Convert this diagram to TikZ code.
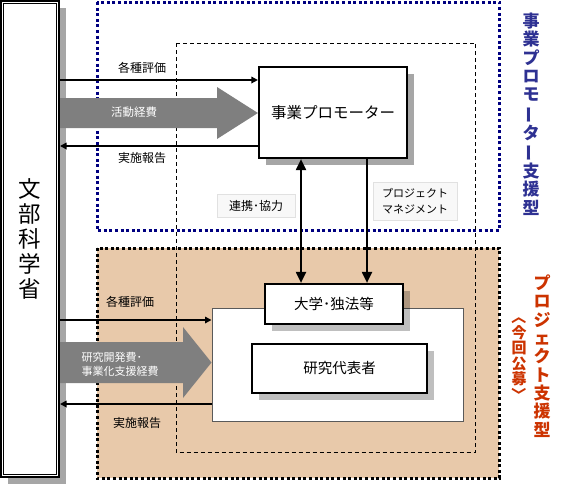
\documentclass[tikz,border=0pt]{standalone}
\usepackage{graphicx}
\usepackage{fontspec}
\setmainfont{Noto Sans CJK JP}
\usetikzlibrary{arrows.meta,shadows}
\definecolor{tanfill}{RGB}{232,201,170}
\definecolor{navyb}{RGB}{0,0,128}
\definecolor{titleblue}{RGB}{46,49,146}
\definecolor{titlered}{RGB}{204,51,0}
\definecolor{arrgray}{RGB}{127,127,127}
\definecolor{lblfill}{RGB}{248,248,248}
\definecolor{lbldraw}{RGB}{225,225,225}
\definecolor{contdraw}{RGB}{90,90,90}
\newcommand\fs[2]{\fontsize{#1}{#2}\selectfont}
\newcommand\vchar[1]{\rotatebox[origin=c]{90}{#1}}
\newcommand\vbrk[1]{\rotatebox[origin=c]{-90}{#1}}
\tikzset{
  region/.style={inner sep=0pt, anchor=north west},
  box/.style={draw, line width=2.2pt, fill=white, inner sep=0pt, font=\fs{14.5}{17}},
  shad/.style={drop shadow={shadow xshift=7pt, shadow yshift=-7pt, fill=black, opacity=#1}},
  harr/.style={line width=1.6pt, -{Triangle[length=6.5pt,width=6.5pt]}},
  varr/.style={line width=2pt, -{Triangle[length=11pt,width=10pt]}},
  vdarr/.style={line width=2pt, {Triangle[length=11pt,width=10pt]}-{Triangle[length=11pt,width=10pt]}},
  lbl/.style={inner sep=0pt, font=\fs{12}{14}},
  lblbox/.style={fill=lblfill, draw=lbldraw, line width=0.8pt, inner sep=0pt, font=\fs{12}{14}},
  bigarr/.style={fill=arrgray, draw=none},
}
\begin{document}
\begin{tikzpicture}[x=1pt,y=-1pt]
\useasboundingbox (0,0) rectangle (586,498);
% regions
\node[region, fill=tanfill, minimum width=402pt, minimum height=230pt] (tan) at (97,248) {};
\draw[line width=3pt, dash pattern=on 3pt off 2.6pt] (tan.north west) rectangle (tan.south east);
\node[region, minimum width=402pt, minimum height=228pt] (blue) at (97,2) {};
\draw[navyb, line width=3pt, dash pattern=on 3pt off 2.6pt] (blue.north west) rectangle (blue.south east);
\node[region, minimum width=299pt, minimum height=409pt] (dash) at (176,43) {};
\draw[line width=0.9pt, dash pattern=on 4pt off 3pt] (dash.north west) rectangle (dash.south east);
% ministry box
\node[draw, line width=2pt, fill=white, inner sep=0pt, minimum width=58pt, minimum height=476pt, shad=.35] (mext) at (30,239) {};
\draw[line width=.7pt] ([shift={(3,3)}]mext.north west) rectangle ([shift={(-3.5,-3.5)}]mext.south east);
\node[align=center, inner sep=0pt, font=\fs{22.5}{25}] (mexttxt) at (30,239) {文\\部\\科\\学\\省};
% boxes
\node[box, shad=.35, minimum width=148pt, minimum height=91pt, font=\fs{15.5}{18}] (prom) at (333,112.5) {事業プロモーター};
\node[draw=contdraw, line width=1pt, fill=white, inner sep=0pt, minimum width=251pt, minimum height=113pt] (cont) at (337.5,364.5) {};
\node[box, shad=.25, minimum width=138pt, minimum height=40pt] (univ) at (334,304) {大学･独法等};
\node[box, shad=.25, minimum width=175pt, minimum height=49pt] (rep) at (339.5,368.5) {研究代表者};
% top arrows
\draw[bigarr] (mext.east |- 0,98) -- (217,98) -- (217,87) -- (prom.west |- 0,113) -- (217,139) -- (217,128) -- (mext.east |- 0,128) -- cycle;
\draw[harr] (mext.east |- 0,80) -- (prom.west |- 0,80);
\draw[harr] (prom.west |- 0,146) -- (mext.east |- 0,146);
\node[lbl] (ev1) at (142,68) {各種評価};
\node[lbl, text=white, font=\fs{11.5}{14}] (cost1) at (134,112) {活動経費};
\node[lbl] (rp1) at (142,158) {実施報告};
% bottom arrows
\draw[bigarr] (mext.east |- 0,342) -- (183,342) -- (183,327) -- (cont.west |- 0,362.5) -- (183,398) -- (183,383) -- (mext.east |- 0,383) -- cycle;
\draw[harr] (mext.east |- 0,320) -- (cont.west |- 0,320);
\draw[harr] (cont.west |- 0,404) -- (mext.east |- 0,404);
\node[lbl] (ev2) at (130,302) {各種評価};
\node[lbl, text=white, align=left, font=\fs{11}{14}] (cost2) at (120,364) {研究開発費･\\事業化支援経費};
\node[lbl] (rp2) at (137,423) {実施報告};
% vertical arrows
\draw[vdarr] (univ.north -| 301,0) -- (prom.south -| 301,0);
\draw[varr] (prom.south -| 367,0) -- (univ.north -| 367,0);
\node[lblbox, minimum width=78pt, minimum height=23pt] (coop) at (256,205.5) {連携･協力};
\node[lblbox, minimum width=84pt, minimum height=38pt, align=left, font=\fs{11}{16}] (pm) at (415,201) {プロジェクト\\マネジメント};
% titles
\node[align=center, inner sep=0pt, text=titleblue, font=\bfseries\fs{17}{18.4}] (t1) at (531,114) {事\\業\\プ\\ロ\\モ\\\vchar{ー}\\タ\\\vchar{ー}\\支\\援\\型};
\node[align=center, inner sep=0pt, text=titlered, font=\bfseries\fs{17}{18.3}] (t2) at (542,356) {プ\\ロ\\ジ\\ェ\\ク\\ト\\支\\援\\型};
\node[align=center, inner sep=0pt, text=titlered, font=\bfseries\fs{15}{15.5}] (t3) at (519,356) {\vbrk{〈}\\今\\回\\公\\募\\\vbrk{〉}};
\end{tikzpicture}
\end{document}
